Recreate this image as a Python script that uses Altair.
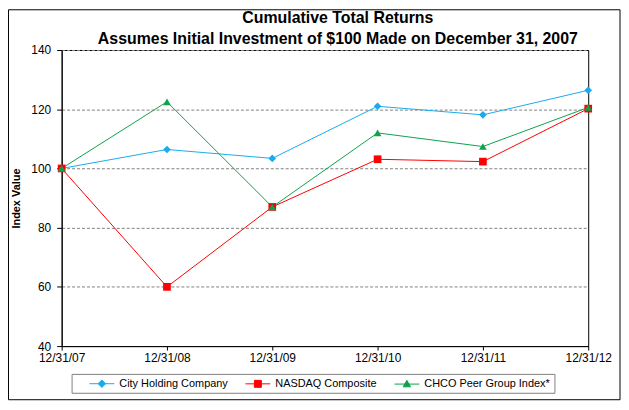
import altair as alt
import pandas as pd

# ---- data ----
dates = ["12/31/07", "12/31/08", "12/31/09", "12/31/10", "12/31/11", "12/31/12"]
series_names = ["City Holding Company", "NASDAQ Composite", "CHCO Peer Group Index*"]
city = [100, 106.4, 103.4, 121.0, 118.1, 126.4]
nasdaq = [100, 60.0, 87.0, 103.1, 102.3, 120.2]
peer = [100, 122.5, 87.0, 112.0, 107.4, 120.6]
y_ticks = [40, 60, 80, 100, 120, 140]
title_lines = ["Cumulative Total Returns",
               "Assumes Initial Investment of $100 Made on December 31, 2007"]

colors = ["#1AABEC", "#FF0000", "#0EA24C"]
shapes = ["diamond", "square", "triangle-up"]
legend_paths = [
    "M-2.5,0H2.5M0,-0.75L0.75,0L0,0.75L-0.75,0Z",
    "M-2.5,0H2.5M-0.7,-0.7H0.7V0.7H-0.7Z",
    "M-2.5,0H2.5M0,-0.75L0.75,0.55L-0.75,0.55Z",
]

rows = []
for name, vals in zip(series_names, [city, nasdaq, peer]):
    for d, v in zip(dates, vals):
        rows.append({"date": d, "series": name, "value": v})
df = pd.DataFrame(rows)

FONT = "Liberation Sans"

legend = alt.Legend(
    title=None,
    orient="none",
    legendX=35,
    legendY=330,
    direction="horizontal",
    gridAlign="each",
    labelFont=FONT,
    labelFontSize=11,
    labelColor="black",
    symbolSize=100,
    symbolStrokeWidth=1,
    symbolOpacity=1,
    labelOffset=12,
    columnPadding=15,
    padding=0,
    zindex=5,
)

color_enc = alt.Color("series:N", scale=alt.Scale(domain=series_names, range=colors), legend=legend)

x_enc = alt.X("date:O", scale=alt.Scale(type="point", padding=0, domain=dates),
              axis=alt.Axis(title=None, labelAngle=0, grid=False, tickSize=4,
                            labelPadding=3, labelFontSize=12))
y_enc = alt.Y("value:Q", scale=alt.Scale(domain=[40, 140], nice=False, zero=False),
              axis=alt.Axis(title="Index Value", values=y_ticks, grid=True,
                            gridDash=[3, 2], gridColor="#808080", tickSize=5,
                            labelPadding=6, labelFontSize=12,
                            titleFontSize=11, titleFontWeight="bold", titlePadding=9))

lines = alt.Chart(df).mark_line(strokeWidth=1).encode(
    x=x_enc, y=y_enc, color=color_enc, detail="series:N"
)

point_layers = []
for name, shp in zip(series_names, shapes):
    point_layers.append(
        alt.Chart(df).transform_filter(alt.datum.series == name)
        .mark_point(filled=True, opacity=1, size=60, shape=shp)
        .encode(x=x_enc, y=y_enc, color=color_enc)
    )

# legend-only layer (draws no rows): symbols are line + marker paths
legend_layer = alt.Chart(df).transform_filter("datum.value < 0").mark_point(
    filled=True, opacity=1, size=100, strokeWidth=1
).encode(
    fill=alt.Fill("series:N", scale=alt.Scale(domain=series_names, range=colors), legend=legend),
    stroke=alt.Stroke("series:N", scale=alt.Scale(domain=series_names, range=colors), legend=legend),
    shape=alt.Shape("series:N", scale=alt.Scale(domain=series_names, range=legend_paths), legend=legend),
)

deco = alt.Data(values=[{"k": 1}])
outer = alt.Chart(deco).mark_rect(fill="white", fillOpacity=0, stroke="black", strokeWidth=1).encode(
    x=alt.value(-53.5), x2=alt.value(562), y=alt.value(-40.5), y2=alt.value(352)
)
legend_box = alt.Chart(deco).mark_rect(fillOpacity=0, stroke="#808080", strokeWidth=1).encode(
    x=alt.value(10.5), x2=alt.value(496.5), y=alt.value(326.5), y2=alt.value(345.5)
)
title_df = pd.DataFrame({"t": title_lines, "i": [0, 1]})
title_marks = [
    alt.Chart(title_df).transform_filter(alt.datum.i == i).mark_text(
        font=FONT, fontSize=16, fontWeight="bold", color="black", baseline="middle", align="center"
    ).encode(text="t:N", x=alt.value(278), y=alt.value(yy))
    for i, yy in [(0, -32), (1, -11)]
]

chart = alt.layer(outer, legend_box, lines, *point_layers, legend_layer, *title_marks).properties(
    width=530,
    height=298,
    padding={"left": 54, "top": 41, "right": 33, "bottom": 56},
    autosize=alt.AutoSizeParams(type="none"),
).configure(
    font=FONT,
    background="white",
).configure_view(
    stroke="black", strokeWidth=1
).configure_axis(
    labelFont=FONT, titleFont=FONT, labelColor="black", titleColor="black",
    domainColor="black", tickColor="black", domainWidth=1, tickWidth=1,
)

chart.save("out.html", embed_options={"renderer": "svg", "actions": False})
